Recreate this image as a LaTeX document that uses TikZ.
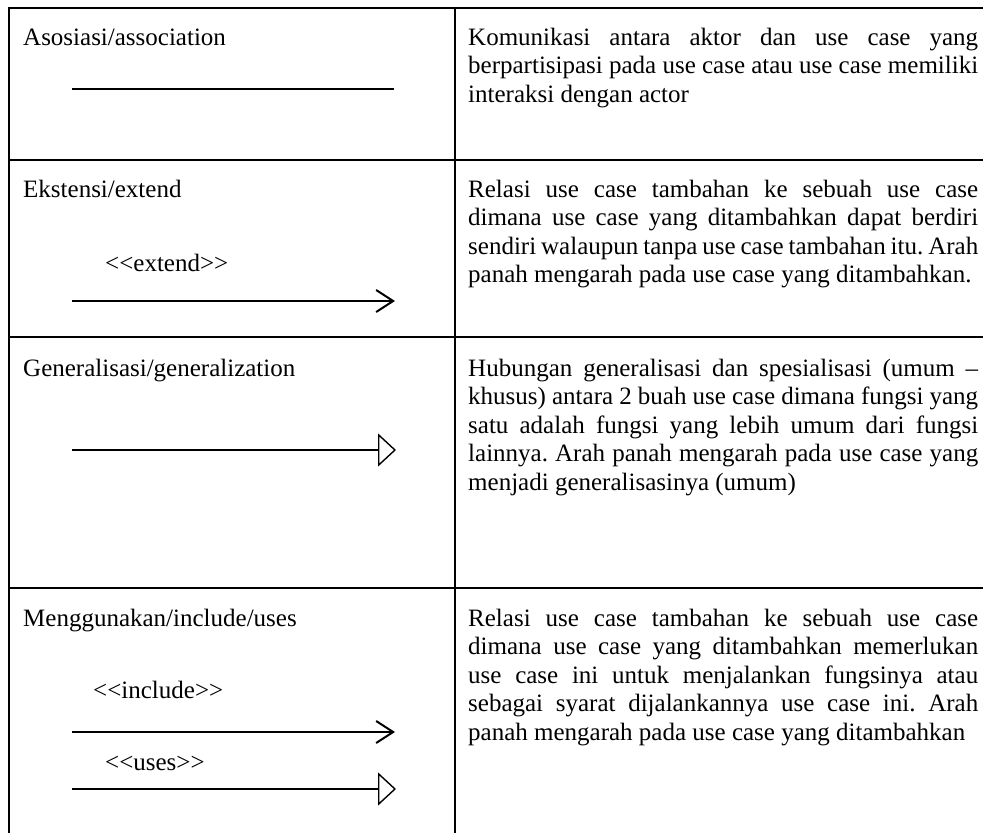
\documentclass[tikz,border=0pt]{standalone}
\usepackage{fontspec}
\setmainfont{Liberation Serif}
\usetikzlibrary{arrows.meta}
\newcommand{\stereo}[1]{<\kern0pt<#1>\kern0pt>}

\begin{document}
\begin{tikzpicture}[x=1pt, y=-1pt,
    grid/.style={line width=2pt, color=black},
    cell/.style={anchor=base west, inner sep=0pt, font=\fontsize{25pt}{28.5pt}\selectfont\frenchspacing},
    desc/.style={cell, text width=510pt, align=justify},
    lbl/.style={cell},
    assoc/.style={line width=1.4pt},
    dep/.style={line width=2pt, -{Straight Barb[length=17pt, width=22pt]}},
    gen/.style={line width=1.4pt, -{Triangle[open, length=18pt, width=33pt, fill=white]}}
  ]
    \useasboundingbox (0,0) rectangle (983,833);
    \fill[white] (0,0) rectangle (983,833);

    \draw[grid] (9,833) -- (9,8) -- (983,8);
    \draw[grid] (455,8) -- (455,833);
    \draw[grid] (9,160) -- (983,160);
    \draw[grid] (9,337) -- (983,337);
    \draw[grid] (9,588) -- (983,588);

    \node[cell] (asosiasi)     at (23,45)  {Asosiasi/association};
    \node[cell] (ekstensi)     at (23,197) {Ekstensi/extend};
    \node[cell] (generalisasi) at (23,376) {Generalisasi/generalization};
    \node[cell] (menggunakan)  at (23,626) {Menggunakan/include/uses};

    \coordinate (asosiasiA) at (72,89);   \coordinate (asosiasiB) at (394,89);
    \coordinate (ekstensiA) at (72,301);  \coordinate (ekstensiB) at (395,301);
    \coordinate (generalA)  at (72,450);  \coordinate (generalB)  at (396,450);
    \coordinate (includeA)  at (72,732);  \coordinate (includeB)  at (395,732);
    \coordinate (usesA)     at (72,789);  \coordinate (usesB)     at (396,789);

    \draw[assoc] (asosiasiA) -- (asosiasiB);
    \node[lbl] (extendlbl) at (105,271) {\stereo{extend}};
    \draw[dep] (ekstensiA) -- (ekstensiB);
    \draw[gen] (generalA) -- (generalB);
    \node[lbl] (includelbl) at (93,698) {\stereo{include}};
    \draw[dep] (includeA) -- (includeB);
    \node[lbl] (useslbl) at (105,770) {\stereo{uses}};
    \draw[gen] (usesA) -- (usesB);

    \node[desc] (descasosiasi) at (468,45)
      {\hyphenpenalty=10000 Komunikasi antara aktor dan use case yang\linebreak
       berpartisipasi pada use case atau use case memiliki\linebreak
       interaksi dengan actor};
    \node[desc] (descekstensi) at (468,197)
      {\hyphenpenalty=10000 Relasi use case tambahan ke sebuah use case\linebreak
       dimana use case yang ditambahkan dapat berdiri\linebreak
       sendiri walaupun tanpa use case tambahan itu. Arah\linebreak
       panah mengarah pada use case yang ditambahkan.};
    \node[desc] (descgeneral) at (468,376)
      {\hyphenpenalty=10000 Hubungan generalisasi dan spesialisasi (umum --\linebreak
       khusus) antara 2 buah use case dimana fungsi yang\linebreak
       satu adalah fungsi yang lebih umum dari fungsi\linebreak
       lainnya. Arah panah mengarah pada use case yang\linebreak
       menjadi generalisasinya (umum)};
    \node[desc] (descmenggunakan) at (468,626)
      {\hyphenpenalty=10000 Relasi use case tambahan ke sebuah use case\linebreak
       dimana use case yang ditambahkan memerlukan\linebreak
       use case ini untuk menjalankan fungsinya atau\linebreak
       sebagai syarat dijalankannya use case ini. Arah\linebreak
       panah mengarah pada use case yang ditambahkan};
\end{tikzpicture}
\end{document}
